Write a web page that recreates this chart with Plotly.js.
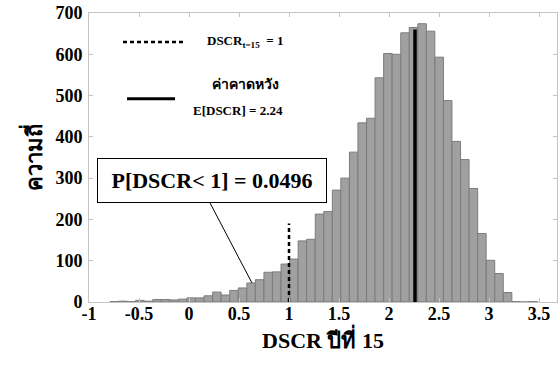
<!DOCTYPE html>
<html>
<head>
<meta charset="utf-8">
<script src="https://cdn.plot.ly/plotly-3.0.1.min.js"></script>
<style>html,body{margin:0;padding:0;background:#fff;}#chart{width:558px;height:365px;}</style>
</head>
<body>
<div id="chart"></div>
<script>
// Histogram bin centres (DSCR, year 15)
const binCenters = [-0.747,-0.662,-0.576,-0.491,-0.405,-0.320,-0.234,-0.149,-0.063,0.022,
  0.108,0.193,0.279,0.364,0.450,0.535,0.621,0.706,0.792,0.877,
  0.963,1.048,1.134,1.219,1.305,1.390,1.476,1.561,1.647,1.732,
  1.818,1.903,1.989,2.074,2.160,2.245,2.331,2.416,2.502,2.587,
  2.673,2.758,2.844,2.929,3.015,3.100,3.186,3.271,3.357,3.442];
// Frequencies
const binCounts = [1,2,1,4,2,6,6,5,7,10,
  10,15,24,17,28,34,46,54,72,73,
  92,104,148,152,213,219,271,300,363,434,
  445,543,602,600,652,665,674,656,593,488,
  389,345,275,166,101,69,23,1,0,1];
// Reference lines
const thresholdX = [1, 1];
const thresholdY = [0, 190];
const meanX = [2.26, 2.26];
const meanY = [0, 660];
// Texts
const xTickVals = [-1,-0.5,0,0.5,1,1.5,2,2.5,3,3.5];
const yTickVals = [0,100,200,300,400,500,600,700];
const probText = 'P[DSCR< 1] = 0.0496';
const xTitle = 'DSCR ปีที่ 15';
const yTitle = 'ความถี่';
const legendThreshold = 'DSCR<sub>t=15</sub>  = 1';
const legendMeanThai = 'ค่าคาดหวัง';
const legendMean = 'E[DSCR] = 2.24';

const FONT = 'Liberation Serif, serif';
const AX = '#c4c4c4';

const traces = [
  {type:'bar', x: binCenters, y: binCounts,
   marker:{color:'#a0a0a0', line:{color:'#7c7c7c', width:1}},
   hoverinfo:'x+y', showlegend:false},
  {type:'scatter', mode:'lines', x: thresholdX, y: thresholdY,
   line:{color:'#000', width:2.5, dash:'4px,3px'}, showlegend:false},
  {type:'scatter', mode:'lines', x: meanX, y: meanY,
   line:{color:'#000', width:3.5}, showlegend:false}
];

const layout = {
  width:558, height:365,
  margin:{l:89, r:1, t:13, b:63},
  paper_bgcolor:'#fff', plot_bgcolor:'#fff',
  bargap:0,
  font:{family:FONT, color:'#000'},
  xaxis:{range:[-1,3.68], tickvals:xTickVals, ticktext:xTickVals.map(v => '<b>'+v+'</b>'),
    ticks:'inside', ticklen:4, tickcolor:AX, showline:true, linecolor:AX, linewidth:1,
    mirror:'ticks', showgrid:false, zeroline:false,
    tickfont:{family:FONT, size:18, color:'#000', weight:700},
    ticklabelstandoff:-5,
    title:{text:'<b>'+xTitle+'</b>', font:{family:FONT, size:22, color:'#000'}, standoff:4}},
  yaxis:{range:[0,700], tickvals:yTickVals, ticktext:yTickVals.map(v => '<b>'+v+'</b>'),
    ticks:'inside', ticklen:4, tickcolor:AX, showline:true, linecolor:AX, linewidth:1,
    mirror:'ticks', showgrid:false, zeroline:false,
    tickfont:{family:FONT, size:18, color:'#000', weight:700},
    ticklabelstandoff:2},
  shapes:[
    {type:'line', xref:'x', yref:'y', x0:-0.66, x1:-0.04, y0:630, y1:630,
     line:{color:'#000', width:2.5, dash:'4px,3px'}},
    {type:'line', xref:'x', yref:'y', x0:-0.62, x1:-0.14, y0:492, y1:492,
     line:{color:'#000', width:3}},
    {type:'line', xref:'x', yref:'y', x0:0.21, x1:0.63, y0:240, y1:46,
     line:{color:'#000', width:1}}
  ],
  annotations:[
    {xref:'paper', yref:'paper', x:-0.12, y:0.5, xanchor:'center', yanchor:'middle',
     showarrow:false, textangle:-90,
     text:'<b>'+yTitle+'</b>', font:{family:FONT, size:22, color:'#000'}},
    {xref:'x', yref:'y', x:0.16, y:630, xanchor:'left', yanchor:'middle', showarrow:false,
     text:'<b>'+legendThreshold+'</b>', font:{family:FONT, size:13, color:'#000'}},
    {xref:'x', yref:'y', x:0.56, y:527, xanchor:'center', yanchor:'middle', showarrow:false,
     text:'<b>'+legendMeanThai+'</b>', font:{family:FONT, size:14, color:'#000'}},
    {xref:'x', yref:'y', x:0.02, y:465, xanchor:'left', yanchor:'middle', showarrow:false,
     text:'<b>'+legendMean+'</b>', font:{family:FONT, size:13, color:'#000'}},
    {xref:'x', yref:'y', x:0.23, y:294, xanchor:'center', yanchor:'middle', showarrow:false,
     text:'<b>'+probText+'</b>', font:{family:FONT, size:22, color:'#000'},
     bgcolor:'#fff', bordercolor:'#000', borderwidth:1, borderpad:0, width:228, height:43}
  ]
};

Plotly.newPlot('chart', traces, layout, {displayModeBar:false, staticPlot:true});
</script>
</body>
</html>
